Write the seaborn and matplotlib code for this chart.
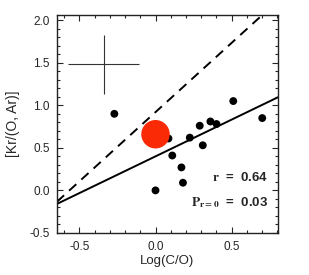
import matplotlib
matplotlib.use("Agg")
import matplotlib.pyplot as plt
import seaborn as sns
import numpy as np
from matplotlib.ticker import MultipleLocator, FormatStrFormatter

# sample points
log_co = [-0.27, 0.0, -0.03, 0.085, 0.11, 0.17, 0.18, 0.225, 0.29, 0.31, 0.36, 0.40, 0.51, 0.70]
kr_oar = [0.90, 0.0, 0.57, 0.61, 0.41, 0.27, 0.09, 0.62, 0.76, 0.53, 0.81, 0.78, 1.05, 0.85]

# highlighted object
red_x = [0.0]
red_y = [0.66]

# fitted relation (solid) and comparison relation (dashed)
fit_slope, fit_icpt = 0.865, 0.40
ref_slope, ref_icpt = 1.63, 0.92

# typical error bar
err_x, err_y = [-0.34], [1.48]
err_dx, err_dy = [0.235], [0.345]

sns.set_style("ticks")
plt.rcParams['font.family'] = ['Liberation Sans', 'DejaVu Sans']
plt.rcParams['mathtext.fontset'] = 'stix'

fig = plt.figure(figsize=(3.09, 2.75), dpi=100)
ax = fig.add_axes([0.184, 0.153, 0.716, 0.792])

xlim = (-0.647, 0.804)
xs = np.array(xlim)
sns.lineplot(x=xs, y=fit_icpt + fit_slope * xs, color='black', linewidth=1.4, ax=ax)
sns.lineplot(x=xs, y=ref_icpt + ref_slope * xs, color='black', linewidth=1.4,
             linestyle=(0, (5, 3.5)), ax=ax)

sns.scatterplot(x=log_co, y=kr_oar, color='black', s=32, edgecolor='none', ax=ax, zorder=3)
sns.scatterplot(x=red_x, y=red_y, color='#fb2a06', s=420, edgecolor='none', ax=ax, zorder=4)

ax.errorbar(err_x, err_y, xerr=err_dx, yerr=err_dy, fmt='none', ecolor='#333333',
            elinewidth=0.8, capsize=0)

ax.set_xlim(*xlim)
ax.set_ylim(-0.5, 2.06)
ax.xaxis.set_major_locator(MultipleLocator(0.5))
ax.xaxis.set_minor_locator(MultipleLocator(0.1))
ax.yaxis.set_major_locator(MultipleLocator(0.5))
ax.yaxis.set_minor_locator(MultipleLocator(0.1))
ax.tick_params(which='both', direction='in', top=True, right=True, labelsize=8.5,
               width=0.8, colors='#262626')
ax.tick_params(which='major', length=4)
ax.tick_params(which='minor', length=2)
ax.tick_params(axis='x', pad=6)
ax.tick_params(axis='y', pad=5)
ax.xaxis.set_major_formatter(FormatStrFormatter('%.1f'))
ax.yaxis.set_major_formatter(FormatStrFormatter('%.1f'))
for sp in ax.spines.values():
    sp.set_linewidth(1.0)
    sp.set_color('#222222')

ax.set_xlabel('Log(C/O)', fontsize=9.5, labelpad=1, color='#262626')
ax.set_ylabel('[Kr/(O, Ar)]', fontsize=10, labelpad=7, color='#262626')

ax.text(0.955, 0.255, r'$\mathbf{r}$  =  0.64', transform=ax.transAxes, ha='right',
        va='center', fontsize=9.5, fontweight='bold')
ax.text(0.955, 0.14, r'$\mathbf{P_{r=0}}$  =  0.03', transform=ax.transAxes, ha='right',
        va='center', fontsize=9.5, fontweight='bold')

fig.savefig('out.png', dpi=100)
